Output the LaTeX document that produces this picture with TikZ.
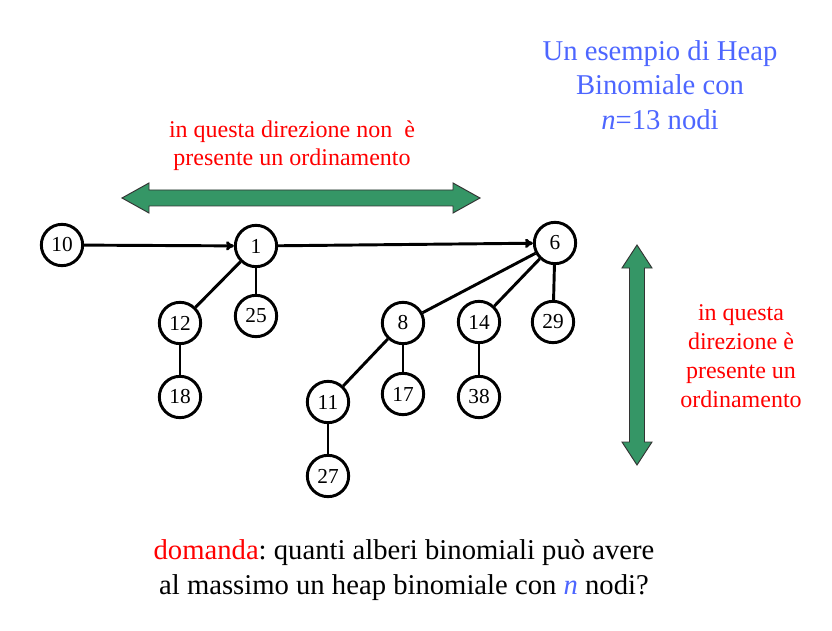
\documentclass[tikz,border=0pt]{standalone}
\usepackage{fontspec}
\setmainfont{Liberation Serif}
\usetikzlibrary{arrows.meta}
\frenchspacing

\definecolor{heapgreen}{RGB}{53,150,102}
\definecolor{heapblue}{RGB}{77,102,255}

\begin{document}
\begin{tikzpicture}[x=0.75pt,y=-0.75pt,
	key/.style = {draw, circle, line width=2.2pt, minimum size=31pt, inner sep=0pt, font=\fontsize{16}{18}\selectfont},
	link/.style = {line width=2.2pt},
	bigarrow/.style = {draw=black!80, fill=heapgreen, line width=0.7pt}]
	\useasboundingbox (0,0) rectangle (832,631);
					\node[text=heapblue, align=center, font=\fontsize{21.5}{26}\selectfont] (title) at (660,85) {Un esempio di Heap\\Binomiale con\\\textit{n}=13 nodi};
					\node[text=red, align=center, font=\fontsize{18}{21}\selectfont] (horiz) at (292,146) {in questa direzione non \ è\\presente un ordinamento};
					\node[text=red, align=center, font=\fontsize{18}{21.75}\selectfont] (vert) at (741,356) {in questa\\direzione è\\presente un\\ordinamento};
					\node[align=center, font=\fontsize{21.5}{26}\selectfont] (question) at (404,570) {\textcolor{red}{domanda}: quanti alberi binomiali può avere\\al massimo un heap binomiale con \textcolor{heapblue}{\textit{n}} nodi?};
					% frecce verdi
					\draw[bigarrow] (122,198) -- (149,183) -- (149,190) -- (453,190) -- (453,183) -- (480,198) -- (453,213) -- (453,206) -- (149,206) -- (149,213) -- cycle;
					\draw[bigarrow] (637,245) -- (652,268) -- (644.5,268) -- (644.5,442) -- (652,442) -- (637,465) -- (622,442) -- (629.5,442) -- (629.5,268) -- (622,268) -- cycle;
					\begin{scope}[every node/.style={key}]
						\node (n10) at (62,245) {10};
						\node (n1) at (256,246) {1};
						\node (n6) at (555,243) {6};
						\node (n12) at (180,323) {12};
						\node (n25) at (256,316) {25};
						\node (n18) at (180,397) {18};
						\node (n8) at (403,323) {8};
						\node (n14) at (479,322) {14};
						\node (n29) at (553,322) {29};
						\node (n11) at (328,402) {11};
						\node (n17) at (403,394) {17};
						\node (n38) at (479,397) {38};
						\node (n27) at (328,476) {27};
					\end{scope}
					\draw [link,-{To[length=6pt,width=7pt]}] (n10) -- (n1);
					\draw [link,-{To[length=6pt,width=7pt]}] (n1) -- (n6);
					\draw [link] (n1) -- (n12);
					\draw [link] (n1) -- (n25);
					\draw [link] (n12) -- (n18);
					\draw [link] (n6) -- (n8);
					\draw [link] (n6) -- (n14);
					\draw [link] (n6) -- (n29);
					\draw [link] (n8) -- (n11);
					\draw [link] (n8) -- (n17);
					\draw [link] (n14) -- (n38);
					\draw [link] (n11) -- (n27);
				\end{tikzpicture}
\end{document}
